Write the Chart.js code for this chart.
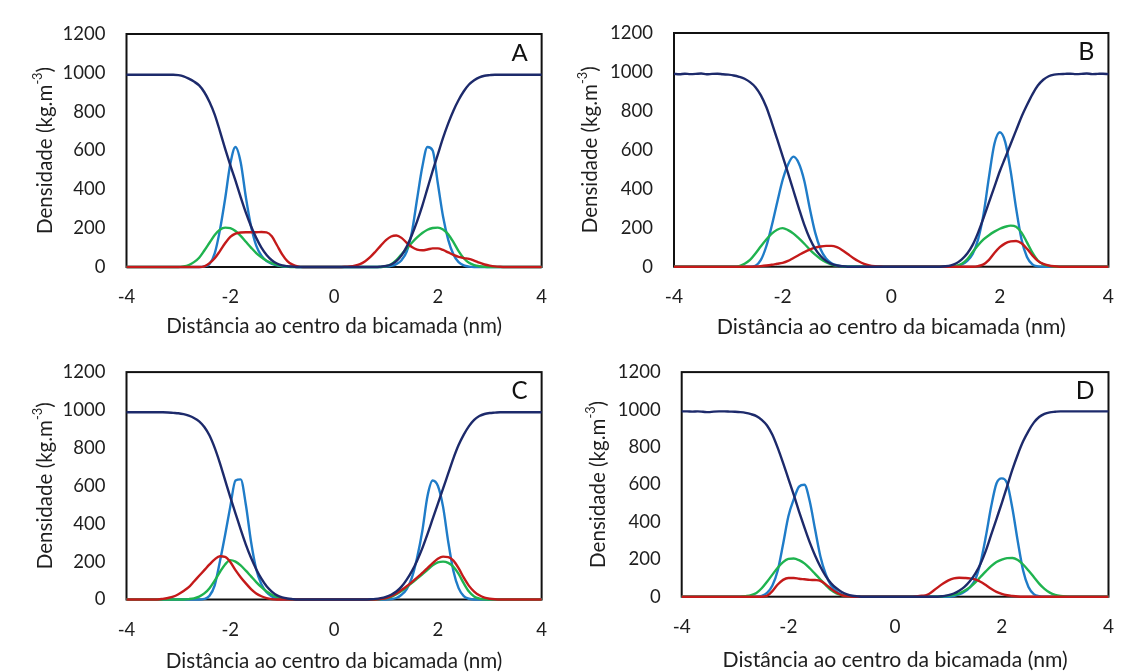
<!DOCTYPE html>
<html><head><meta charset="utf-8">
<script src="https://cdn.jsdelivr.net/npm/chart.js@4.4.1/dist/chart.umd.min.js"></script>
<style>
html,body{margin:0;padding:0;background:#fff;width:1133px;height:672px;overflow:hidden}
.p{position:absolute}
canvas{display:block}
</style></head><body>
<div class="p" style="left:0;top:0;width:566px;height:340px"><canvas id="cA" width="566" height="340"></canvas></div>
<div class="p" style="left:566px;top:0;width:567px;height:340px"><canvas id="cB" width="567" height="340"></canvas></div>
<div class="p" style="left:0;top:340px;width:566px;height:332px"><canvas id="cC" width="566" height="332"></canvas></div>
<div class="p" style="left:566px;top:340px;width:567px;height:332px"><canvas id="cD" width="567" height="332"></canvas></div>
<script>
// ---- data ----
const xNm = [-4.0,-3.9,-3.8,-3.7,-3.6,-3.5,-3.4,-3.3,-3.2,-3.1,
 -3.0,-2.9,-2.8,-2.7,-2.6,-2.5,-2.4,-2.3,-2.2,-2.1,
 -2.0,-1.9,-1.8,-1.7,-1.6,-1.5,-1.4,-1.3,-1.2,-1.1,
 -1.0,-0.9,-0.8,-0.7,-0.6,-0.5,-0.4,-0.3,-0.2,-0.1,
 0.0,
 0.1,0.2,0.3,0.4,0.5,0.6,0.7,0.8,0.9,1.0,
 1.1,1.2,1.3,1.4,1.5,1.6,1.7,1.8,1.9,2.0,
 2.1,2.2,2.3,2.4,2.5,2.6,2.7,2.8,2.9,3.0,
 3.1,3.2,3.3,3.4,3.5,3.6,3.7,3.8,3.9,4.0];
const xTicks = [-4,-2,0,2,4];
const yTicks = [0,200,400,600,800,1000,1200];
const panelLetters = ['A','B','C','D'];
const xTitle = 'Distância ao centro da bicamada (nm)';
const yTitleMain = 'Densidade (kg.m';
const yTitleSup = '-3';
const yTitleEnd = ')';

// Panel A
const aWater = [990,990,990,990,990,990,990,990,990,990,
 988,982,970,955,935,900,850,785,700,610,
 525,445,360,280,210,150,100,62,35,18,
 8,4,2,0,0,0,0,0,0,0,
 0,
 0,0,0,0,0,0,0,0,2,5,
 13,30,60,105,165,235,315,405,495,580,
 665,740,805,860,905,940,962,977,985,988,
 990,990,990,990,990,990,990,990,990,990];
const aBlue = [0,0,0,0,0,0,0,0,0,0,
 0,0,0,0,0,3,15,70,190,350,
 530,618,540,360,210,110,58,30,16,8,
 4,2,1,0,0,0,0,0,0,0,
 0,
 0,0,0,0,0,0,0,0,0,2,
 6,15,35,80,180,350,515,618,600,430,
 260,140,65,25,8,2,0,0,0,0,
 0,0,0,0,0,0,0,0,0,0];
const aGreen = [0,0,0,0,0,0,0,0,0,0,
 0,3,10,25,48,85,125,165,192,203,
 200,185,160,130,100,72,50,32,20,11,
 5,2,0,0,0,0,0,0,0,0,
 0,
 0,0,0,0,0,0,0,0,0,4,
 14,35,65,95,125,152,175,192,201,203,
 193,168,128,82,45,22,10,4,1,0,
 0,0,0,0,0,0,0,0,0,0];
const aRed = [0,0,0,0,0,0,0,0,0,0,
 0,0,0,0,0,3,20,45,82,122,
 155,172,178,179,179,179,180,178,158,112,
 65,30,12,3,0,0,0,0,0,0,
 0,
 0,1,3,7,15,30,52,80,110,138,
 157,162,150,125,103,90,86,90,96,96,
 88,75,62,52,46,42,33,22,13,7,
 3,1,0,0,0,0,0,0,0,0];

// Panel B
const bWater = [990,988,991,989,990,992,988,990,991,988,
 986,982,975,965,948,922,880,820,740,655,
 568,480,390,300,215,145,92,55,30,15,
 6,2,0,0,0,0,0,0,0,0,
 0,
 0,0,0,0,0,0,0,0,0,2,
 7,18,38,68,112,175,250,330,410,490,
 560,630,700,770,830,885,930,960,978,986,
 989,990,991,989,990,992,989,990,991,989];
const bBlue = [0,0,0,0,0,0,0,0,0,0,
 0,0,0,0,0,5,35,105,210,330,
 445,525,565,530,440,300,175,90,42,18,
 7,2,0,0,0,0,0,0,0,0,
 0,
 0,0,0,0,0,0,0,0,0,0,
 0,3,12,30,65,140,270,460,630,690,
 640,490,300,140,50,12,2,0,0,0,
 0,0,0,0,0,0,0,0,0,0];
const bGreen = [0,0,0,0,0,0,0,0,0,0,
 0,0,3,15,35,68,105,140,170,190,
 198,188,170,145,118,88,62,40,23,11,
 4,1,0,0,0,0,0,0,0,0,
 0,
 0,0,0,0,0,0,0,0,0,0,
 0,4,15,38,75,110,140,162,180,195,
 205,211,205,175,125,72,32,12,4,0,
 0,0,0,0,0,0,0,0,0,0];
const bRed = [0,0,0,0,0,0,0,0,0,0,
 0,0,0,0,0,1,3,6,10,15,
 20,30,45,60,75,88,98,104,107,107,
 100,85,65,45,28,15,7,3,1,0,
 0,
 0,0,0,0,0,0,0,0,0,0,
 0,0,0,0,0,3,12,35,70,100,
 120,130,132,120,92,58,30,14,6,2,
 0,0,0,0,0,0,0,0,0,0];

// Panel C
const cWater = [988,988,988,988,988,988,988,988,987,985,
 983,978,970,958,940,910,865,800,720,630,
 540,455,370,290,220,160,110,70,42,22,
 11,5,2,0,0,0,0,0,0,0,
 0,
 0,0,0,0,0,0,1,3,7,14,
 25,42,68,105,150,205,270,345,425,505,
 585,665,745,815,870,915,948,968,979,984,
 986,988,988,988,988,988,988,988,988,988];
const cBlue = [0,0,0,0,0,0,0,0,0,0,
 0,0,0,0,0,3,20,75,200,340,
 490,628,634,500,305,160,80,38,16,6,
 2,0,0,0,0,0,0,0,0,0,
 0,
 0,0,0,0,0,0,0,0,0,0,
 2,8,25,55,115,220,360,545,628,600,
 490,305,150,60,18,4,0,0,0,0,
 0,0,0,0,0,0,0,0,0,0];
const cGreen = [0,0,0,0,0,0,0,0,0,0,
 0,0,2,6,15,32,60,100,145,185,
 208,200,180,152,122,92,65,42,25,13,
 6,2,0,0,0,0,0,0,0,0,
 0,
 0,0,0,0,0,0,0,0,2,6,
 14,28,45,65,88,110,133,157,180,196,
 200,193,172,135,85,42,16,5,1,0,
 0,0,0,0,0,0,0,0,0,0];
const cRed = [0,0,0,0,0,0,0,3,8,15,
 28,45,65,95,125,155,185,212,228,225,
 198,155,118,85,55,32,17,7,2,0,
 0,0,0,0,0,0,0,0,0,0,
 0,
 0,0,0,0,0,0,0,0,3,8,
 18,32,50,70,92,115,140,165,192,215,
 226,224,205,165,115,72,42,22,10,4,
 1,0,0,0,0,0,0,0,0,0];

// Panel D
const dWater = [990,990,989,990,988,986,989,990,990,989,
 988,986,982,975,965,945,915,865,795,715,
 630,545,455,370,290,220,160,110,72,45,
 25,12,5,2,0,0,0,0,0,0,
 0,
 0,0,0,0,0,0,0,0,3,8,
 17,32,52,82,122,175,245,330,415,500,
 590,680,760,830,885,930,960,977,985,988,
 990,990,990,990,990,990,990,990,990,990];
const dBlue = [0,0,0,0,0,0,0,0,0,0,
 0,0,0,0,0,4,20,60,140,280,
 430,520,588,598,510,360,215,120,60,28,
 12,4,1,0,0,0,0,0,0,0,
 0,
 0,0,0,0,0,0,0,0,0,0,
 4,12,26,50,90,180,320,480,605,632,
 605,470,295,140,52,14,3,0,0,0,
 0,0,0,0,0,0,0,0,0,0];
const dGreen = [0,0,0,0,0,0,0,0,0,0,
 0,0,3,8,20,45,80,118,155,185,
 202,204,195,178,152,122,92,62,35,18,
 8,3,0,0,0,0,0,0,0,0,
 0,
 0,0,0,0,0,0,0,0,2,5,
 10,18,32,50,75,105,135,163,185,198,
 206,207,196,172,140,105,70,42,22,10,
 4,1,0,0,0,0,0,0,0,0];
const dRed = [0,0,0,0,0,0,0,0,0,0,
 0,0,0,0,0,0,5,30,65,90,
 100,100,96,93,90,89,85,66,42,22,
 8,2,0,0,0,0,0,0,0,0,
 0,
 0,0,0,2,5,10,28,50,70,87,
 98,101,100,98,92,80,62,42,26,15,
 8,4,1,0,0,0,0,0,0,0,
 0,0,0,0,0,0,0,0,0,0];

// ---- style / layout ----
const FONT = 'Lato';
const TEXT = '#1e1e1e';
const COLORS = {water:'#1d2a6b', red:'#c41a1a', green:'#1fb34f', blue:'#1f7cc8'};

const panels = [
 {id:'cA', cx:0,   cy:0,   cw:566, ch:340, l:126.5, r:553,   t:34,  b:267,   yTitleX:45,  xTitleDy:59.5, series:[aWater,aRed,aGreen,aBlue]},
 {id:'cB', cx:566, cy:0,   cw:567, ch:340, l:674,   r:1117.5,t:33,  b:266.7, yTitleX:590, xTitleDy:60.5, series:[bWater,bRed,bGreen,bBlue]},
 {id:'cC', cx:0,   cy:340, cw:566, ch:332, l:126.5, r:554,   t:366, b:599.5, yTitleX:45,  xTitleDy:61.5, series:[cWater,cRed,cGreen,cBlue]},
 {id:'cD', cx:566, cy:340, cw:567, ch:332, l:681.7, r:1120,  t:366, b:596.7, yTitleX:598, xTitleDy:63,   series:[dWater,dRed,dGreen,dBlue]}
];

function fitSize(ctx, text, targetW, base){
  ctx.font = base + 'px ' + FONT;
  return base * targetW / ctx.measureText(text).width;
}

const framePlugin = {
  id:'frame',
  beforeDatasetsDraw(chart){
    const {ctx, chartArea:a} = chart;
    ctx.save();
    ctx.strokeStyle = '#111';
    ctx.lineWidth = 2;
    ctx.strokeRect(a.left, a.top, a.right-a.left, a.bottom-a.top);
    ctx.restore();
  },
  afterDraw(chart, args, o){
    const {ctx, chartArea:a} = chart;
    ctx.save();
    ctx.fillStyle = TEXT;
    const xs = fitSize(ctx, xTitle, o.xTitleW, 18);
    ctx.font = xs + 'px ' + FONT;
    ctx.textAlign = 'center';
    ctx.textBaseline = 'middle';
    ctx.fillText(xTitle, (a.left+a.right)/2, a.bottom + o.xTitleDy);
    const base = 18;
    ctx.font = base + 'px ' + FONT;
    const w1 = ctx.measureText(yTitleMain).width;
    const w3 = ctx.measureText(yTitleEnd).width;
    ctx.font = (base*0.62) + 'px ' + FONT;
    const w2 = ctx.measureText(yTitleSup).width;
    const k = o.yTitleW / (w1+w2+w3);
    const fs = base*k;
    ctx.translate(o.yTitleX, (a.top+a.bottom)/2);
    ctx.rotate(-Math.PI/2);
    ctx.textAlign = 'left';
    ctx.textBaseline = 'middle';
    let x0 = -(w1+w2+w3)*k/2;
    ctx.font = fs + 'px ' + FONT;
    ctx.fillText(yTitleMain, x0, 0);
    x0 += w1*k;
    ctx.font = (fs*0.62) + 'px ' + FONT;
    ctx.fillText(yTitleSup, x0, -fs*0.36);
    x0 += w2*k;
    ctx.font = fs + 'px ' + FONT;
    ctx.fillText(yTitleEnd, x0, 0);
    ctx.setTransform(1,0,0,1,0,0);
    ctx.font = (24*o.s) + 'px ' + FONT;
    ctx.textAlign = 'right';
    ctx.textBaseline = 'alphabetic';
    ctx.fillStyle = '#111';
    ctx.fillText(o.letter, a.right - 14, a.top + 27);
    ctx.restore();
  }
};

const names = ['Água','Série 2','Série 3','Série 4'];
const colorList = [COLORS.water, COLORS.red, COLORS.green, COLORS.blue];

panels.forEach((p, i) => {
  const s = (p.r - p.l) / 426.5;
  const Wy = p.l - p.cx;
  const Hx = p.cy + p.ch - p.b;
  const datasets = p.series.map((arr, j) => ({
    label: names[j],
    data: xNm.map((x, k) => ({x: x, y: arr[k]})),
    borderColor: colorList[j],
    backgroundColor: colorList[j],
    borderWidth: 2.4,
    pointRadius: 0,
    fill: false,
    cubicInterpolationMode: 'monotone',
    clip: 6
  }));
  new Chart(document.getElementById(p.id), {
    type: 'line',
    data: {datasets},
    plugins: [framePlugin],
    options: {
      responsive: false,
      animation: false,
      devicePixelRatio: 1,
      layout: {padding: {left:0, top: p.t - p.cy, right: p.cx + p.cw - p.r, bottom: 0}},
      plugins: {
        legend: {display:false},
        tooltip: {enabled:false},
        frame: {letter: panelLetters[i], s: s, xTitleW: 336*s, xTitleDy: p.xTitleDy, yTitleX: p.yTitleX - p.cx, yTitleW: 167}
      },
      scales: {
        x: {
          type: 'linear', min: -4, max: 4,
          border: {display:false},
          grid: {display:false, drawTicks:false},
          afterBuildTicks: sc => { sc.ticks = xTicks.map(v => ({value:v})); },
          afterFit: sc => { sc.height = Hx; },
          ticks: {color: TEXT, padding: 19, maxRotation:0, font: {family: FONT, size: 18.5*s}, callback: v => String(v)}
        },
        y: {
          type: 'linear', min: 0, max: 1200,
          border: {display:false},
          grid: {display:false, drawTicks:false},
          afterBuildTicks: sc => { sc.ticks = yTicks.map(v => ({value:v})); },
          afterFit: sc => { sc.width = Wy; },
          ticks: {color: TEXT, padding: 21, font: {family: FONT, size: 18.5}, callback: v => String(v)}
        }
      }
    }
  });
});
</script>
</body></html>
